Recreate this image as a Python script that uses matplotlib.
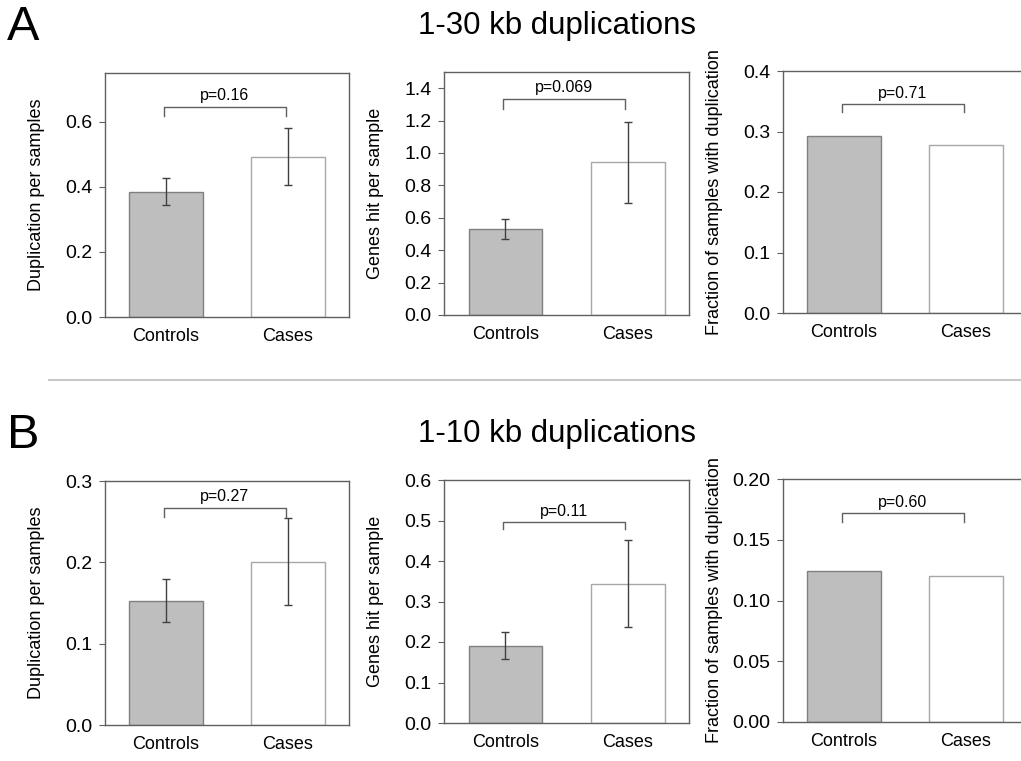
import matplotlib
matplotlib.use("Agg")
from matplotlib import pyplot as plt
from matplotlib.lines import Line2D

plt.rcParams["font.family"] = ["Liberation Sans", "DejaVu Sans"]

GROUPS = ["Controls", "Cases"]

# 1-30 kb duplications
DUP_30 = [0.385, 0.493]
DUP_30_ERR = [0.042, 0.088]
GENES_30 = [0.530, 0.942]
GENES_30_ERR = [0.062, 0.248]
FRAC_30 = [0.293, 0.278]

# 1-10 kb duplications
DUP_10 = [0.153, 0.201]
DUP_10_ERR = [0.026, 0.054]
GENES_10 = [0.191, 0.344]
GENES_10_ERR = [0.034, 0.108]
FRAC_10 = [0.124, 0.120]

P_VALUES = ["p=0.16", "p=0.069", "p=0.71", "p=0.27", "p=0.11", "p=0.60"]

BAR_FILL = ["#bebebe", "#ffffff"]
BAR_EDGE = ["#808080", "#a8a8a8"]
SPINE = "#606060"

W, H = 1021, 761


def px_axes(fig, left, top, right, bottom):
    return fig.add_axes([left / W, 1 - bottom / H, (right - left) / W, (bottom - top) / H])


def draw_panel(ax, values, errors, ylabel, ymax, ticks, tick_fmt, p_text, bracket_y, drop):
    x = [0.5, 1.5]
    ax.bar(x, values, width=0.6, color=BAR_FILL, edgecolor=BAR_EDGE, linewidth=1.0, zorder=2)
    if errors is not None:
        ax.errorbar(x, values, yerr=errors, fmt="none", ecolor="#404040",
                    elinewidth=1.0, capsize=3, capthick=1.0, zorder=3)
    ax.set_xlim(0, 2)
    ax.set_ylim(0, ymax)
    ax.set_xticks(x)
    ax.set_xticklabels(GROUPS, fontsize=13)
    ax.set_yticks(ticks)
    ax.set_yticklabels([tick_fmt.format(t) for t in ticks], fontsize=14)
    ax.tick_params(axis="x", length=0, pad=8)
    ax.tick_params(axis="y", length=4, width=0.8, color=SPINE, direction="out", pad=5)
    for s in ax.spines.values():
        s.set_color(SPINE)
        s.set_linewidth(1.0)
    ax.set_ylabel(ylabel, fontsize=13)
    ax.yaxis.set_label_coords(-0.245, 0.5)

    # significance bracket
    ax.plot([0.48, 0.48, 1.48, 1.48], [bracket_y - drop, bracket_y, bracket_y, bracket_y - drop],
            color="#606060", linewidth=1.0, zorder=3)
    ax.text(0.98, bracket_y + drop * 0.4, p_text, ha="center", va="bottom", fontsize=11.5)


fig = plt.figure(figsize=(W / 100, H / 100), dpi=100)

# Row A
ax = px_axes(fig, 105, 73, 349, 317)
draw_panel(ax, DUP_30, DUP_30_ERR, "Duplication per samples", 0.75,
           [0.0, 0.2, 0.4, 0.6], "{:.1f}", P_VALUES[0], 0.647, 0.028)
ax = px_axes(fig, 444, 72, 689, 315)
draw_panel(ax, GENES_30, GENES_30_ERR, "Genes hit per sample", 1.5,
           [0.0, 0.2, 0.4, 0.6, 0.8, 1.0, 1.2, 1.4], "{:.1f}", P_VALUES[1], 1.332, 0.058)
ax = px_axes(fig, 783, 71, 1027, 313)
draw_panel(ax, FRAC_30, None, "Fraction of samples with duplication", 0.4,
           [0.0, 0.1, 0.2, 0.3, 0.4], "{:.1f}", P_VALUES[2], 0.345, 0.012)

# Row B
ax = px_axes(fig, 105, 481, 349, 725)
draw_panel(ax, DUP_10, DUP_10_ERR, "Duplication per samples", 0.3,
           [0.0, 0.1, 0.2, 0.3], "{:.1f}", P_VALUES[3], 0.267, 0.011)
ax = px_axes(fig, 444, 480, 689, 723)
draw_panel(ax, GENES_10, GENES_10_ERR, "Genes hit per sample", 0.6,
           [0.0, 0.1, 0.2, 0.3, 0.4, 0.5, 0.6], "{:.1f}", P_VALUES[4], 0.497, 0.019)
ax = px_axes(fig, 783, 479, 1027, 722)
draw_panel(ax, FRAC_10, None, "Fraction of samples with duplication", 0.2,
           [0.0, 0.05, 0.10, 0.15, 0.20], "{:.2f}", P_VALUES[5], 0.172, 0.007)

# titles and panel letters
fig.text(557 / W, 1 - 26 / H, "1-30 kb duplications", ha="center", va="center", fontsize=22.5)
fig.text(557 / W, 1 - 434 / H, "1-10 kb duplications", ha="center", va="center", fontsize=22.5)
fig.text(7 / W, 1 - 28 / H, "A", ha="left", va="center", fontsize=35)
fig.text(7 / W, 1 - 436 / H, "B", ha="left", va="center", fontsize=35)

# separator between rows
fig.add_artist(Line2D([49 / W, 1.0], [1 - 380 / H, 1 - 380 / H], color="#c8c8c8", linewidth=1.5))

fig.savefig("out.png", dpi=100)
